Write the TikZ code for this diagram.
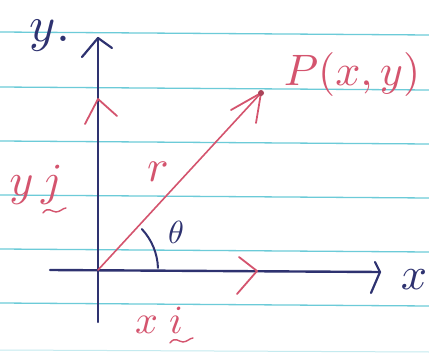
\documentclass[tikz,border=0pt]{standalone}
\usepackage{amsmath}
\usepackage{graphicx}
\definecolor{ink}{HTML}{2E3270}
\definecolor{pen}{HTML}{D4546E}
\definecolor{rule}{HTML}{6CCBD8}
\begin{document}
\begin{tikzpicture}[x=1pt,y=-1pt,line cap=round,line join=round,
  paperline/.style={rule,line width=1.3pt},
  axis/.style={ink,line width=2.4pt},
  vec/.style={pen,line width=1.6pt},
  headred/.style={pen,line width=1.8pt},
  headblue/.style={ink,line width=2.2pt},
  redlbl/.style={pen,inner sep=0pt},
  bluelbl/.style={ink,inner sep=0pt}]
\useasboundingbox (0,0) rectangle (429,353);
\fill[white] (0,0) rectangle (429,353);
% ruled paper
\foreach \y in {32,87,141,195,249,303}
  \draw[paperline] (0,\y) -- (429,\y+3);
\draw[rule!40,line width=1pt] (0,350) -- (429,352);
% coordinates
\coordinate (O) at (98,270);
\coordinate (ytop) at (98,38);
\coordinate (ybot) at (98,322);
\coordinate (xleft) at (50,270);
\coordinate (xright) at (380,272);
\coordinate (P) at (261,93);
\coordinate (jtip) at (98,99);
\coordinate (itip) at (257,271);
% axes
\draw[axis] (ybot) -- (ytop);
\draw[axis] (xleft) -- (xright);
\draw[headblue] (82,57) -- (ytop) -- (112,48);
\draw[headblue] (375,262) -- (xright) -- (371,293);
% position vector
\draw[vec] (O) -- (P);
\draw[headred] (231,110) -- (P) -- (256,123);
\fill[pen!80!black] (P) circle (3pt);
% unit vector arrowheads
\draw[headred] (85,124) -- (jtip) -- (117,116);
\draw[headred] (239,257) -- (itip) -- (237,294);
% angle
\draw[ink,line width=2pt] (O) ++(-43:60) arc[start angle=-43,end angle=-2,radius=60];
% labels
\node[bluelbl] (ylbl) at (50,36) {\scalebox{5}{$y$.}};
\node[bluelbl] (xlbl) at (414,280) {\scalebox{4.6}{$x$}};
\node[bluelbl] (th) at (176,232) {\scalebox{3.2}{$\theta$}};
\node[redlbl] (Plbl) at (352,74) {\scalebox{4.4}{$P(x,y)$}};
\node[redlbl] (rlbl) at (158,172) {\scalebox{4.5}{$r$}};
\node[redlbl] (yj) at (36,185) {\scalebox{4.6}{$y\,j$}};
\node[redlbl] (xi) at (159,320) {\scalebox{4}{$x\;i$}};
\draw[pen,line width=1.4pt] (43,213) .. controls (48,206) and (52,212) .. (56,212) .. controls (60,212) and (63,208) .. (66,208);
\draw[pen,line width=1.4pt] (170,343) .. controls (175,336) and (179,342) .. (183,342) .. controls (187,342) and (190,338) .. (193,338);
\end{tikzpicture}
\end{document}
